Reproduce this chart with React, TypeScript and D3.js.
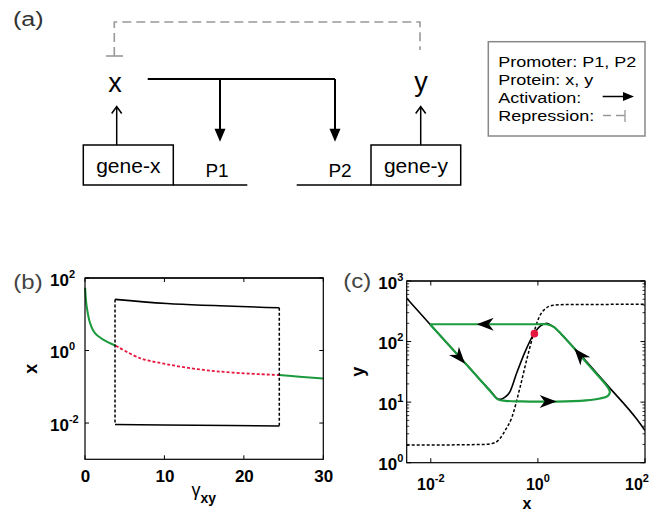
import React from 'react';
import * as d3 from 'd3';

const FONT = "'Liberation Sans', Arial, Helvetica, sans-serif";
const GREEN = '#1c9a3e';
const RED = '#e5173f';
const GRAY = '#999';

// ---- panel (b): x against gamma_xy ----
const bGammaTicks = [0, 10, 20, 30];
const bXTicks = [1e-2, 1, 1e2];
const bXTickExp = ['-2', '0', '2'];

const stableLeftGamma = [0.02, 0.08, 0.21, 0.63, 1.26, 2.3, 3.9];
const stableLeftX = [54, 33, 16.6, 5.8, 3.0, 2.0, 1.35];
const unstableGamma = [3.9, 6.9, 10.3, 14.5, 18.7, 24.46];
const unstableX = [1.35, 0.62, 0.42, 0.3, 0.245, 0.21];
const stableRightGamma = [24.46, 27, 30];
const stableRightX = [0.21, 0.19, 0.17];
const cycleMaxGamma = [3.78, 10.3, 24.46];
const cycleMaxX = [25.7, 19.8, 15.1];
const cycleMinGamma = [3.78, 14, 24.46];
const cycleMinX = [0.0091, 0.0087, 0.0083];

// ---- panel (c): phase plane ----
const cXTicks = [1e-2, 1, 1e2];
const cXTickExp = ['-2', '0', '2'];
const cYTicks = [1, 10, 100, 1000];
const cYTickExp = ['0', '1', '2', '3'];

const xNullX = [0.00355, 0.00966, 0.0501, 0.126, 0.19, 0.24, 0.3, 0.4, 0.575, 0.82, 1.12, 1.46, 1.94, 3.45, 8.3, 20.7, 70, 100];
const xNullY = [518, 193, 38.8, 15.8, 11.1, 12, 14.8, 29.9, 67.6, 129, 182, 200, 176, 106, 45.7, 18.2, 5.25, 3.4];
const yNullX = [0.00355, 0.1, 0.158, 0.196, 0.251, 0.324, 0.463, 0.618, 0.82, 1.016, 1.26, 1.94, 3.44, 100];
const yNullY = [1.95, 2.0, 2.14, 2.51, 3.55, 5.5, 17.4, 50, 129, 234, 324, 398, 409, 412];
const cycleX = [0.00966, 0.0251, 0.063, 0.126, 0.182, 0.251, 0.5, 2.24, 7.94, 14.5, 20, 22.1, 20.7, 8.3, 3.45, 1.94, 1.46, 1, 0.1, 0.00966];
const cycleY = [193, 75.9, 30.9, 15.5, 11.0, 10.5, 10.3, 10.2, 10.7, 11.5, 12.6, 14.5, 17, 43.6, 106, 176, 193, 193, 193, 193];
const fixedPoint = [0.86, 135];
// arrow tip and a point behind it on the cycle
const arrowTips = [[0.072, 193], [0.0436, 43], [2.24, 10.2], [4.8, 77]];
const arrowTails = [[0.2, 193], [0.0251, 75.9], [1.0, 10.2], [8.3, 43.6]];

const zip = (a: number[], b: number[]) => a.map((v, i) => [v, b[i]] as [number, number]);

function PowLabel({ x, y, exp, anchor = 'start', size = 17 }: { x: number; y: number; exp: string; anchor?: string; size?: number }) {
  return (
    <text x={x} y={y} fontSize={size} fontWeight="bold" textAnchor={anchor} fontFamily={FONT}>
      10<tspan dy={-8} fontSize={11}>{exp}</tspan>
    </text>
  );
}

function PanelA() {
  const head = (x: number, tip: number) => `M${x - 5.5},${tip - 13} L${x + 5.5},${tip - 13} L${x},${tip} Z`;
  return (
    <g fontFamily={FONT}>
      <text transform="translate(13,26) scale(1.25,1)" fontSize={20} fill="#333">(a)</text>
      <path d="M114.3,56 V22 H420 V50" fill="none" stroke={GRAY} strokeWidth={1.6} strokeDasharray="9 5" />
      <path d="M106,56 H123" stroke={GRAY} strokeWidth={1.6} />
      <text x={115} y={92} fontSize={27} textAnchor="middle">x</text>
      <text x={421} y={91} fontSize={27} textAnchor="middle">y</text>
      <path d="M147.7,79 H335 M220,79 V130 M335,79 V130" fill="none" stroke="#000" strokeWidth={2} />
      <path d={head(220, 141.7)} fill="#000" />
      <path d={head(335, 141.7)} fill="#000" />
      <path d="M116.7,145 V107 M111.7,113.5 L116.7,106.5 L121.7,113.5 M420.7,145 V107 M415.7,113.5 L420.7,106.5 L425.7,113.5"
        fill="none" stroke="#000" strokeWidth={1.5} />
      <rect x={83.3} y={145} width={90} height={40} fill="none" stroke="#000" strokeWidth={1.5} />
      <rect x={371} y={145} width={89.7} height={40} fill="none" stroke="#000" strokeWidth={1.5} />
      <path d="M173.3,185 H247.3 M296.7,185 H371" stroke="#000" strokeWidth={1.5} />
      <text x={128.3} y={173} fontSize={21} textAnchor="middle">gene-x</text>
      <text x={416} y={173} fontSize={21} textAnchor="middle">gene-y</text>
      <text x={217} y={177} fontSize={19} textAnchor="middle">P1</text>
      <text x={340} y={177} fontSize={19} textAnchor="middle">P2</text>

      <rect x={488.3} y={41.7} width={156.7} height={94.3} fill="none" stroke="#888" strokeWidth={1.5} />
      {['Promoter: P1, P2', 'Protein: x, y', 'Activation:', 'Repression:'].map((t, i) => (
        <text key={t} transform={`translate(498.3,${67 + i * 18}) scale(1.2,1)`} fontSize={15}>{t}</text>
      ))}
      <path d="M602.7,96.5 H624" stroke="#000" strokeWidth={1.5} />
      <path d="M623,92 L634,96.5 L623,101 Z" fill="#000" />
      <path d="M603,115.5 H611 M616,115.5 H625 M625,110 V122" fill="none" stroke={GRAY} strokeWidth={1.3} />
    </g>
  );
}

function PanelB() {
  const x = d3.scaleLinear().domain([0, 30]).range([85, 323.3]);
  const y = d3.scaleLog().domain([1e-3, 1e2]).range([459.3, 278]);
  const line = d3.line<[number, number]>().x(d => x(d[0])).y(d => y(d[1])).curve(d3.curveCatmullRom.alpha(0.5));
  const [x0, x1] = x.range();
  const [y0, y1] = y.range();
  return (
    <g fontFamily={FONT}>
      <text transform="translate(13.3,289) scale(1.2,1)" fontSize={20} fill="#444">(b)</text>
      <path d={line(zip(stableLeftGamma, stableLeftX)) || ''} fill="none" stroke={GREEN} strokeWidth={2} />
      <path d={line(zip(unstableGamma, unstableX)) || ''} fill="none" stroke={RED} strokeWidth={1.8} strokeDasharray="3 2" />
      <path d={line(zip(stableRightGamma, stableRightX)) || ''} fill="none" stroke={GREEN} strokeWidth={2} />
      <path d={line(zip(cycleMaxGamma, cycleMaxX)) || ''} fill="none" stroke="#000" strokeWidth={1.6} />
      <path d={line(zip(cycleMinGamma, cycleMinX)) || ''} fill="none" stroke="#000" strokeWidth={1.6} />
      {[0, cycleMaxGamma.length - 1].map(i => (
        <line key={i} x1={x(cycleMaxGamma[i])} x2={x(cycleMinGamma[i])} y1={y(cycleMaxX[i])} y2={y(cycleMinX[i])}
          stroke="#000" strokeWidth={1.5} strokeDasharray="3 2" />
      ))}
      <rect x={x0} y={y1} width={x1 - x0} height={y0 - y1} fill="none" stroke="#000" strokeWidth={1.2} />
      <line x1={x0} x2={x1} y1={y1} y2={y1} stroke="#222" strokeWidth={2} />
      {bGammaTicks.map(t => (
        <g key={t}>
          <line x1={x(t)} x2={x(t)} y1={y0} y2={y0 - 4} stroke="#000" />
          <line x1={x(t)} x2={x(t)} y1={y1} y2={y1 + 4} stroke="#000" />
          <text x={x(t) + 0.5} y={481.7} fontSize={17} fontWeight="bold" textAnchor="middle">{t}</text>
        </g>
      ))}
      {bXTicks.map((t, i) => (
        <g key={t}>
          <line x1={x0} x2={x0 + 4} y1={y(t)} y2={y(t)} stroke="#000" />
          <line x1={x1} x2={x1 - 4} y1={y(t)} y2={y(t)} stroke="#000" />
          <PowLabel x={50} y={y(t) + 7.5} exp={bXTickExp[i]} />
        </g>
      ))}
      <text transform={`translate(36.7,${(y0 + y1) / 2}) rotate(-90)`} fontSize={18} fontWeight="bold" textAnchor="middle">x</text>
      <text x={191.5} y={496} fontSize={18}>γ<tspan dy={6.5} fontSize={14} fontWeight="bold">xy</tspan></text>
    </g>
  );
}

function PanelC() {
  const x = d3.scaleLog().domain([0.00355, 100]).range([406.7, 645]);
  const y = d3.scaleLog().domain([1, 1000]).range([462.7, 281]);
  const [x0, x1] = x.range();
  const [y0, y1] = y.range();
  const mono = d3.line<[number, number]>().x(d => x(d[0])).y(d => y(d[1])).curve(d3.curveMonotoneX);
  const loop = d3.line<[number, number]>().x(d => x(d[0])).y(d => y(d[1])).curve(d3.curveCatmullRom.alpha(0.5));
  const minor = y.ticks().filter(t => !cYTicks.includes(t));
  return (
    <g fontFamily={FONT}>
      <defs>
        <clipPath id="clipC"><rect x={x0} y={y1} width={x1 - x0} height={y0 - y1} /></clipPath>
      </defs>
      <text transform="translate(343.3,288) scale(1.2,1)" fontSize={20} fill="#444">(c)</text>
      <g clipPath="url(#clipC)">
        <path d={mono(zip(yNullX, yNullY)) || ''} fill="none" stroke="#000" strokeWidth={1.5} strokeDasharray="3 2" />
        <path d={mono(zip(xNullX, xNullY)) || ''} fill="none" stroke="#000" strokeWidth={1.6} />
        <path d={loop(zip(cycleX, cycleY)) || ''} fill="none" stroke={GREEN} strokeWidth={2.2} strokeLinejoin="round" />
        {arrowTips.map((tip, i) => {
          const tx = x(tip[0]), ty = y(tip[1]);
          const fx = x(arrowTails[i][0]), fy = y(arrowTails[i][1]);
          const a = (Math.atan2(ty - fy, tx - fx) * 180) / Math.PI;
          return <path key={i} transform={`translate(${tx},${ty}) rotate(${a})`} d="M0,0 L-17,-6.5 L-12,0 L-17,6.5 Z" fill="#000" />;
        })}
        <circle cx={x(fixedPoint[0])} cy={y(fixedPoint[1])} r={3.8} fill={RED} />
      </g>
      <rect x={x0} y={y1} width={x1 - x0} height={y0 - y1} fill="none" stroke="#000" strokeWidth={1.2} />
      <line x1={x0} x2={x1} y1={y1} y2={y1} stroke="#333" strokeWidth={2} />
      {minor.map(t => (
        <g key={t}>
          <line x1={x0} x2={x0 + 2.5} y1={y(t)} y2={y(t)} stroke="#000" strokeWidth={0.8} />
          <line x1={x1} x2={x1 - 2.5} y1={y(t)} y2={y(t)} stroke="#000" strokeWidth={0.8} />
        </g>
      ))}
      {cYTicks.map((t, i) => (
        <g key={t}>
          <line x1={x0} x2={x0 + 4.5} y1={y(t)} y2={y(t)} stroke="#000" />
          <line x1={x1} x2={x1 - 4.5} y1={y(t)} y2={y(t)} stroke="#000" />
          <PowLabel x={378.3} y={y(t) + 7.5} exp={cYTickExp[i]} />
        </g>
      ))}
      {cXTicks.map((t, i) => (
        <g key={t}>
          <line x1={x(t)} x2={x(t)} y1={y0} y2={y0 - 4.5} stroke="#000" />
          <line x1={x(t)} x2={x(t)} y1={y1} y2={y1 + 4.5} stroke="#000" />
          <PowLabel x={Math.min(x(t), 637)} y={490} exp={cXTickExp[i]} anchor="middle" size={16} />
        </g>
      ))}
      <text transform={`translate(364,${(y0 + y1) / 2}) rotate(-90)`} fontSize={18} fontWeight="bold" textAnchor="middle">y</text>
      <text x={(x0 + x1) / 2 + 1} y={509} fontSize={16} fontWeight="bold" textAnchor="middle">x</text>
    </g>
  );
}

export default function App() {
  return (
    <svg width={665} height={513} style={{ position: 'absolute', left: 0, top: 0, background: '#fff' }}>
      <PanelA />
      <PanelB />
      <PanelC />
    </svg>
  );
}
